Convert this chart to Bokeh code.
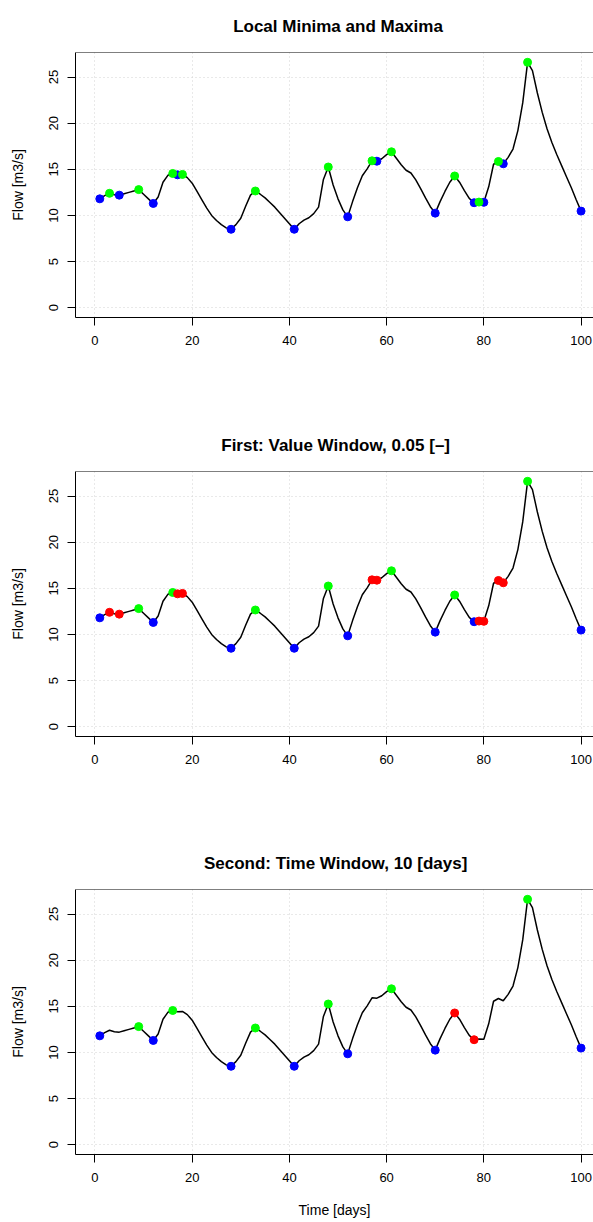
from bokeh.plotting import figure
from bokeh.layouts import column
from bokeh.models import FixedTicker, Span, Range1d
from bokeh.core.properties import value
from bokeh.embed import file_html
from bokeh.resources import INLINE

# ---------------- data ----------------
days = list(range(1, 101))
flow = [11.8, 12.15, 12.4, 12.25, 12.2, 12.35, 12.5, 12.65, 12.8, 12.3,
        11.8, 11.3, 12.0, 13.6, 14.35, 14.55, 14.4, 14.45, 14.1, 13.5,
        12.6, 11.7, 10.8, 10.0, 9.45, 9.0, 8.65, 8.5, 9.0, 9.7,
        11.0, 12.2, 12.65, 12.3, 11.9, 11.4, 10.9, 10.3, 9.7, 9.1,
        8.5, 9.1, 9.5, 9.75, 10.2, 10.9, 13.9, 15.25, 13.3, 11.8,
        10.6, 9.85, 11.5, 13.0, 14.3, 15.05, 15.92, 15.88, 16.15, 16.6,
        16.9, 16.2, 15.5, 14.9, 14.6, 13.85, 12.9, 11.9, 10.95, 10.25,
        11.5, 12.6, 13.6, 14.28, 13.6, 12.7, 11.85, 11.38, 11.45, 11.42,
        13.1, 15.55, 15.85, 15.6, 16.3, 17.2, 19.2, 22.2, 26.6, 25.7,
        23.3, 21.2, 19.4, 17.9, 16.6, 15.4, 14.2, 13.0, 11.7, 10.47]

# panel 1: local minima / maxima
minima_1 = [1, 5, 12, 17, 28, 41, 52, 58, 70, 78, 80, 84, 100]
maxima_1 = [3, 9, 16, 18, 33, 48, 57, 61, 74, 79, 83, 89]
# panel 2: value window
minima_2 = [1, 12, 28, 41, 52, 70, 78, 100]
maxima_2 = [9, 16, 33, 48, 61, 74, 89]
removed_2 = [3, 5, 17, 18, 57, 58, 79, 80, 83, 84]
# panel 3: time window
minima_3 = [1, 12, 28, 41, 52, 70, 100]
maxima_3 = [9, 16, 33, 48, 61, 89]
removed_3 = [74, 78]

titles = ["Local Minima and Maxima",
          "First: Value Window,  0.05 [\u2013]",
          "Second: Time Window,  10 [days]"]
x_ticks = [0, 20, 40, 60, 80, 100]
y_ticks = [0, 5, 10, 15, 20, 25]
x_label = "Time [days]"
y_label = "Flow [m3/s]"

# ---------------- styling ----------------
FONT = "Liberation Sans"
W = 593
X_START, X_END = -4.0, 102.56
Y_START, Y_END = -1.064, 27.664
X_CENTRE = 50.0          # centre of the full plot region (-4 .. 104)
TITLE_H = 51
flow_at = dict(zip(days, flow))


def make_title(text):
    t = figure(width=W, height=TITLE_H, output_backend="svg", toolbar_location=None,
               x_range=Range1d(X_START, X_END), y_range=Range1d(0, TITLE_H),
               x_axis_type=None, y_axis_type=None, outline_line_color=None,
               min_border=0, min_border_left=75, min_border_right=0,
               background_fill_color="white", border_fill_color="white")
    t.text(x=[X_CENTRE], y=[25.0], text=[text], text_align="center",
           text_baseline="alphabetic", text_font=value(FONT),
           text_font_size="17px", text_font_style="bold", text_color="black")
    return t


def make_panel(mins, maxs, removed, height, border_bottom, xlabel):
    p = figure(width=W, height=height, output_backend="svg", toolbar_location=None,
               x_range=Range1d(X_START, X_END), y_range=Range1d(Y_START, Y_END),
               min_border_left=75, min_border_right=0, min_border_top=1,
               min_border_bottom=border_bottom, outline_line_color=None,
               background_fill_color="white", border_fill_color="white")

    p.xaxis.ticker = FixedTicker(ticks=x_ticks)
    p.yaxis.ticker = FixedTicker(ticks=y_ticks)
    for ax in (p.xaxis[0], p.yaxis[0]):
        ax.axis_line_color = "black"
        ax.axis_line_width = 1
        ax.major_tick_line_color = "black"
        ax.major_tick_in = 0
        ax.major_tick_out = 8
        ax.minor_tick_line_color = None
        ax.major_label_text_font = FONT
        ax.major_label_text_font_size = "13px"
        ax.major_label_text_color = "black"
        ax.axis_label_text_font = FONT
        ax.axis_label_text_font_size = "14px"
        ax.axis_label_text_font_style = "normal"
        ax.axis_label_text_color = "black"
    p.xaxis.major_label_standoff = 10
    p.yaxis.major_label_standoff = 9
    p.yaxis.major_label_orientation = "vertical"
    p.yaxis.axis_label = y_label
    p.yaxis.axis_label_standoff = 21
    if xlabel:
        p.xaxis.axis_label = xlabel
        p.xaxis.axis_label_standoff = 17

    for g in (p.xgrid[0], p.ygrid[0]):
        g.grid_line_color = "#D3D3D3"
        g.grid_line_dash = "1 3"
        g.grid_line_width = 1

    p.add_layout(Span(location=Y_END, dimension="width", line_color="black", line_width=1))

    p.line(days, flow, line_color="black", line_width=1.5)
    p.scatter([d for d in mins], [flow_at[d] for d in mins], size=8,
              fill_color="#0000FF", line_color="#0000FF")
    p.scatter([d for d in maxs], [flow_at[d] for d in maxs], size=8,
              fill_color="#00FF00", line_color="#00FF00")
    if removed:
        p.scatter([d for d in removed], [flow_at[d] for d in removed], size=8,
                  fill_color="#FF0000", line_color="#FF0000")
    return p


t1 = make_title(titles[0])
p1 = make_panel(minima_1, maxima_1, [], 419 - TITLE_H, 102, None)
t2 = make_title(titles[1])
p2 = make_panel(minima_2, maxima_2, removed_2, 418 - TITLE_H, 101, None)
t3 = make_title(titles[2])
p3 = make_panel(minima_3, maxima_3, removed_3, 385 - TITLE_H, 68, x_label)

layout = column(t1, p1, t2, p2, t3, p3, spacing=0)
open("out.html", "w").write(file_html(layout, INLINE))
